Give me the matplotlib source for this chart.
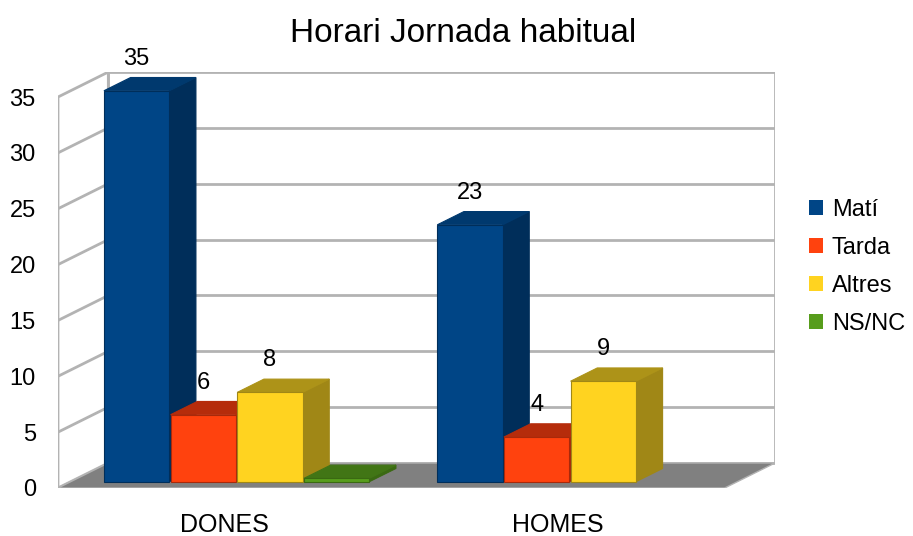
import numpy as np
import matplotlib.pyplot as plt
from matplotlib.patches import Polygon, Patch

plt.rcParams['font.family'] = ['Liberation Sans', 'DejaVu Sans']

categories = ['DONES', 'HOMES']
series = ['Matí', 'Tarda', 'Altres', 'NS/NC']
mati = [35, 23]
tarda = [6, 4]
altres = [8, 9]
nsnc = [0, np.nan]
values = [mati, tarda, altres, nsnc]

front_cols = ['#004586', '#ff420e', '#ffd320', '#579d1c']
side_cols = ['#002e5a', '#a8290a', '#a08716', '#3a6912']
top_cols = ['#00396e', '#b52c0b', '#ad9318', '#417515']

ymax = 35
DX, DY = 0.151, 2.24      # depth of the 3d box, in data units
f0, f1 = 0.25, 0.78       # bar depth range (fraction of box depth)
slot = 0.2
bw = 0.196
grid_col = '#b3b3b3'

fig = plt.figure(figsize=(9.13, 5.36), dpi=100)
ax = fig.add_axes([58/913, 48/536, 717/913, 416/536])
ax.set_xlim(0, len(categories) + DX)
ax.set_ylim(0, ymax + DY)
for s in ax.spines.values():
    s.set_visible(False)

# back wall
ax.add_patch(Polygon([(DX, DY), (2+DX, DY), (2+DX, ymax+DY), (DX, ymax+DY)],
                     closed=True, fc='white', ec=grid_col, lw=2, zorder=1))
# left wall
ax.add_patch(Polygon([(0, 0), (DX, DY), (DX, ymax+DY), (0, ymax)],
                     closed=True, fc='white', ec=grid_col, lw=2, zorder=1))
for v in range(5, ymax, 5):
    ax.plot([DX, 2+DX], [v+DY, v+DY], color=grid_col, lw=2, zorder=1.5)
    ax.plot([0, DX], [v, v+DY], color=grid_col, lw=2, zorder=1.5)
# floor
ax.add_patch(Polygon([(0, 0), (2, 0), (2+DX, DY), (DX, DY)],
                     closed=True, fc='#808080', ec=grid_col, lw=1, zorder=2))


def bar3d(x0, h, i, z):
    ox, oy = f0*DX, f0*DY
    ddx, ddy = (f1-f0)*DX, (f1-f0)*DY
    x = x0 + ox
    y = oy
    front = [(x, y), (x+bw, y), (x+bw, y+h), (x, y+h)]
    side = [(x+bw, y), (x+bw+ddx, y+ddy), (x+bw+ddx, y+h+ddy), (x+bw, y+h)]
    top = [(x, y+h), (x+bw, y+h), (x+bw+ddx, y+h+ddy), (x+ddx, y+h+ddy)]
    ax.add_patch(Polygon(side, closed=True, fc=side_cols[i], ec=side_cols[i], lw=0.8, zorder=z))
    ax.add_patch(Polygon(top, closed=True, fc=top_cols[i], ec=top_cols[i], lw=0.8, zorder=z))
    ax.add_patch(Polygon(front, closed=True, fc=front_cols[i], ec=side_cols[i], lw=0.8, zorder=z+0.1))


z = 3
for c in range(len(categories)):
    for i in range(len(series)):
        h = values[i][c]
        if np.isnan(h):
            continue
        x0 = c + 0.1 + i*slot
        bar3d(x0, max(h, 0.3), i, z)
        z += 0.2
        if h > 0:
            ax.text(x0 + f0*DX + bw/2, h + f1*DY + 0.7, str(h), ha='center', va='bottom',
                    fontsize=17, zorder=20)

ax.set_yticks(range(0, ymax+1, 5))
ax.set_xticks([0.5, 1.5])
ax.set_xticklabels(categories)
ax.tick_params(axis='y', length=0, pad=16, labelsize=17)
ax.tick_params(axis='x', length=0, pad=18, labelsize=18)

fig.text(463/913, 1 - 33/536, 'Horari Jornada habitual', ha='center', va='center', fontsize=24)

handles = [Patch(fc=front_cols[i], ec='none') for i in range(len(series))]
fig.legend(handles, series, loc='center left', bbox_to_anchor=(804/913, 1 - 267/536),
           frameon=False, fontsize=17, handlelength=0.62, handleheight=0.62,
           handletextpad=0.35, labelspacing=0.68, borderpad=0.2, borderaxespad=0)

fig.savefig('out.png', dpi=100)
